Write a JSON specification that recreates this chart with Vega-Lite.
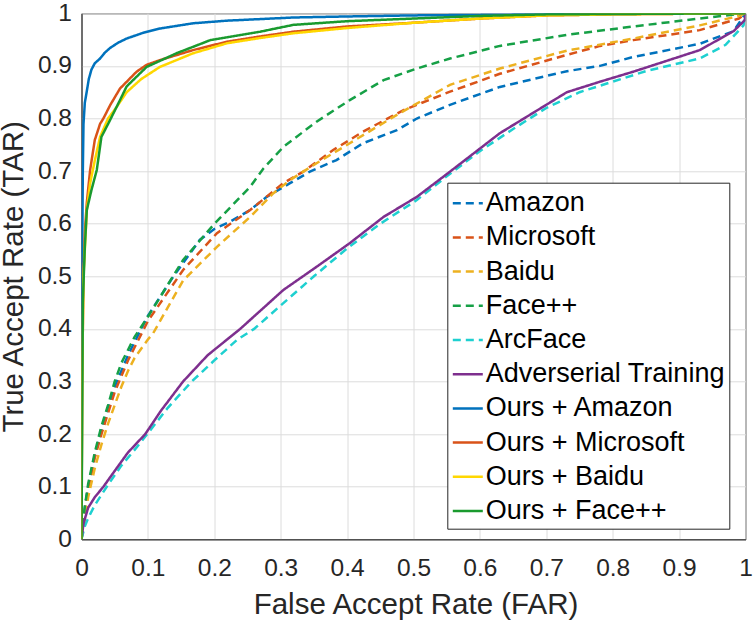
{
  "$schema": "https://vega.github.io/schema/vega-lite/v6.json",
  "width": 664,
  "height": 526,
  "autosize": {"type": "none"},
  "padding": {"left": 81.5, "top": 13.3, "right": 10.5, "bottom": 81.7},
  "background": "white",
  "config": {
    "font": "Liberation Sans",
    "view": {"stroke": "#262626", "strokeWidth": 1}
  },
  "datasets": {
    "roc": [
      {"s":"Amazon","x":0,"y":0},{"s":"Amazon","x":0.005,"y":0.06},{"s":"Amazon","x":0.01,"y":0.1},{"s":"Amazon","x":0.02,"y":0.16},{"s":"Amazon","x":0.03,"y":0.205},{"s":"Amazon","x":0.04,"y":0.25},{"s":"Amazon","x":0.05,"y":0.29},{"s":"Amazon","x":0.06,"y":0.32},{"s":"Amazon","x":0.07,"y":0.35},{"s":"Amazon","x":0.08,"y":0.375},{"s":"Amazon","x":0.1,"y":0.425},{"s":"Amazon","x":0.138,"y":0.499},{"s":"Amazon","x":0.178,"y":0.569},{"s":"Amazon","x":0.2,"y":0.59},{"s":"Amazon","x":0.224,"y":0.604},{"s":"Amazon","x":0.254,"y":0.626},{"s":"Amazon","x":0.279,"y":0.651},{"s":"Amazon","x":0.314,"y":0.677},{"s":"Amazon","x":0.344,"y":0.699},{"s":"Amazon","x":0.384,"y":0.721},{"s":"Amazon","x":0.424,"y":0.753},{"s":"Amazon","x":0.475,"y":0.778},{"s":"Amazon","x":0.505,"y":0.8},{"s":"Amazon","x":0.555,"y":0.826},{"s":"Amazon","x":0.63,"y":0.86},{"s":"Amazon","x":0.731,"y":0.89},{"s":"Amazon","x":0.781,"y":0.9},{"s":"Amazon","x":0.831,"y":0.917},{"s":"Amazon","x":0.931,"y":0.942},{"s":"Amazon","x":0.982,"y":0.966},{"s":"Amazon","x":1,"y":1},
      {"s":"Microsoft","x":0,"y":0},{"s":"Microsoft","x":0.005,"y":0.055},{"s":"Microsoft","x":0.01,"y":0.095},{"s":"Microsoft","x":0.02,"y":0.155},{"s":"Microsoft","x":0.03,"y":0.2},{"s":"Microsoft","x":0.04,"y":0.24},{"s":"Microsoft","x":0.05,"y":0.28},{"s":"Microsoft","x":0.06,"y":0.31},{"s":"Microsoft","x":0.07,"y":0.34},{"s":"Microsoft","x":0.08,"y":0.365},{"s":"Microsoft","x":0.1,"y":0.415},{"s":"Microsoft","x":0.153,"y":0.512},{"s":"Microsoft","x":0.204,"y":0.582},{"s":"Microsoft","x":0.254,"y":0.626},{"s":"Microsoft","x":0.304,"y":0.677},{"s":"Microsoft","x":0.334,"y":0.699},{"s":"Microsoft","x":0.379,"y":0.74},{"s":"Microsoft","x":0.424,"y":0.775},{"s":"Microsoft","x":0.485,"y":0.816},{"s":"Microsoft","x":0.555,"y":0.851},{"s":"Microsoft","x":0.63,"y":0.885},{"s":"Microsoft","x":0.731,"y":0.921},{"s":"Microsoft","x":0.781,"y":0.938},{"s":"Microsoft","x":0.831,"y":0.949},{"s":"Microsoft","x":0.931,"y":0.968},{"s":"Microsoft","x":0.99,"y":0.99},{"s":"Microsoft","x":1,"y":1},
      {"s":"Baidu","x":0,"y":0},{"s":"Baidu","x":0.005,"y":0.04},{"s":"Baidu","x":0.01,"y":0.08},{"s":"Baidu","x":0.02,"y":0.135},{"s":"Baidu","x":0.03,"y":0.18},{"s":"Baidu","x":0.04,"y":0.22},{"s":"Baidu","x":0.05,"y":0.255},{"s":"Baidu","x":0.06,"y":0.29},{"s":"Baidu","x":0.07,"y":0.32},{"s":"Baidu","x":0.08,"y":0.345},{"s":"Baidu","x":0.1,"y":0.38},{"s":"Baidu","x":0.108,"y":0.392},{"s":"Baidu","x":0.153,"y":0.492},{"s":"Baidu","x":0.204,"y":0.556},{"s":"Baidu","x":0.254,"y":0.613},{"s":"Baidu","x":0.289,"y":0.658},{"s":"Baidu","x":0.314,"y":0.683},{"s":"Baidu","x":0.354,"y":0.715},{"s":"Baidu","x":0.404,"y":0.753},{"s":"Baidu","x":0.475,"y":0.807},{"s":"Baidu","x":0.555,"y":0.864},{"s":"Baidu","x":0.63,"y":0.895},{"s":"Baidu","x":0.731,"y":0.929},{"s":"Baidu","x":0.831,"y":0.952},{"s":"Baidu","x":0.931,"y":0.977},{"s":"Baidu","x":0.99,"y":0.995},{"s":"Baidu","x":1,"y":1},
      {"s":"Face++","x":0,"y":0},{"s":"Face++","x":0.005,"y":0.062},{"s":"Face++","x":0.01,"y":0.105},{"s":"Face++","x":0.02,"y":0.165},{"s":"Face++","x":0.03,"y":0.215},{"s":"Face++","x":0.04,"y":0.255},{"s":"Face++","x":0.05,"y":0.3},{"s":"Face++","x":0.06,"y":0.335},{"s":"Face++","x":0.07,"y":0.36},{"s":"Face++","x":0.08,"y":0.385},{"s":"Face++","x":0.1,"y":0.423},{"s":"Face++","x":0.153,"y":0.531},{"s":"Face++","x":0.201,"y":0.601},{"s":"Face++","x":0.254,"y":0.67},{"s":"Face++","x":0.274,"y":0.705},{"s":"Face++","x":0.304,"y":0.746},{"s":"Face++","x":0.354,"y":0.794},{"s":"Face++","x":0.404,"y":0.835},{"s":"Face++","x":0.455,"y":0.873},{"s":"Face++","x":0.505,"y":0.895},{"s":"Face++","x":0.555,"y":0.914},{"s":"Face++","x":0.63,"y":0.938},{"s":"Face++","x":0.731,"y":0.959},{"s":"Face++","x":0.831,"y":0.975},{"s":"Face++","x":0.931,"y":0.99},{"s":"Face++","x":1,"y":1},
      {"s":"ArcFace","x":0,"y":0},{"s":"ArcFace","x":0.005,"y":0.025},{"s":"ArcFace","x":0.01,"y":0.04},{"s":"ArcFace","x":0.02,"y":0.065},{"s":"ArcFace","x":0.038,"y":0.1},{"s":"ArcFace","x":0.06,"y":0.14},{"s":"ArcFace","x":0.08,"y":0.17},{"s":"ArcFace","x":0.099,"y":0.2},{"s":"ArcFace","x":0.13,"y":0.25},{"s":"ArcFace","x":0.166,"y":0.3},{"s":"ArcFace","x":0.2,"y":0.34},{"s":"ArcFace","x":0.234,"y":0.379},{"s":"ArcFace","x":0.26,"y":0.4},{"s":"ArcFace","x":0.304,"y":0.449},{"s":"ArcFace","x":0.35,"y":0.5},{"s":"ArcFace","x":0.4,"y":0.553},{"s":"ArcFace","x":0.45,"y":0.6},{"s":"ArcFace","x":0.505,"y":0.645},{"s":"ArcFace","x":0.55,"y":0.69},{"s":"ArcFace","x":0.6,"y":0.738},{"s":"ArcFace","x":0.65,"y":0.78},{"s":"ArcFace","x":0.7,"y":0.82},{"s":"ArcFace","x":0.75,"y":0.85},{"s":"ArcFace","x":0.8,"y":0.87},{"s":"ArcFace","x":0.85,"y":0.89},{"s":"ArcFace","x":0.9,"y":0.905},{"s":"ArcFace","x":0.931,"y":0.914},{"s":"ArcFace","x":0.97,"y":0.94},{"s":"ArcFace","x":0.997,"y":0.977},{"s":"ArcFace","x":1,"y":1},
      {"s":"Adverserial Training","x":0,"y":0},{"s":"Adverserial Training","x":0.003,"y":0.03},{"s":"Adverserial Training","x":0.01,"y":0.06},{"s":"Adverserial Training","x":0.02,"y":0.08},{"s":"Adverserial Training","x":0.033,"y":0.1},{"s":"Adverserial Training","x":0.05,"y":0.13},{"s":"Adverserial Training","x":0.07,"y":0.165},{"s":"Adverserial Training","x":0.096,"y":0.2},{"s":"Adverserial Training","x":0.12,"y":0.245},{"s":"Adverserial Training","x":0.153,"y":0.3},{"s":"Adverserial Training","x":0.19,"y":0.35},{"s":"Adverserial Training","x":0.239,"y":0.4},{"s":"Adverserial Training","x":0.304,"y":0.474},{"s":"Adverserial Training","x":0.354,"y":0.518},{"s":"Adverserial Training","x":0.404,"y":0.563},{"s":"Adverserial Training","x":0.455,"y":0.613},{"s":"Adverserial Training","x":0.505,"y":0.651},{"s":"Adverserial Training","x":0.555,"y":0.699},{"s":"Adverserial Training","x":0.63,"y":0.772},{"s":"Adverserial Training","x":0.731,"y":0.85},{"s":"Adverserial Training","x":0.781,"y":0.87},{"s":"Adverserial Training","x":0.831,"y":0.889},{"s":"Adverserial Training","x":0.931,"y":0.93},{"s":"Adverserial Training","x":0.982,"y":0.966},{"s":"Adverserial Training","x":0.999,"y":0.987},{"s":"Adverserial Training","x":1,"y":1},
      {"s":"Ours + Amazon","x":0,"y":0},{"s":"Ours + Amazon","x":0.0005,"y":0.45},{"s":"Ours + Amazon","x":0.002,"y":0.7},{"s":"Ours + Amazon","x":0.003,"y":0.79},{"s":"Ours + Amazon","x":0.005,"y":0.83},{"s":"Ours + Amazon","x":0.008,"y":0.852},{"s":"Ours + Amazon","x":0.011,"y":0.875},{"s":"Ours + Amazon","x":0.015,"y":0.893},{"s":"Ours + Amazon","x":0.02,"y":0.905},{"s":"Ours + Amazon","x":0.028,"y":0.914},{"s":"Ours + Amazon","x":0.035,"y":0.925},{"s":"Ours + Amazon","x":0.043,"y":0.934},{"s":"Ours + Amazon","x":0.055,"y":0.944},{"s":"Ours + Amazon","x":0.068,"y":0.952},{"s":"Ours + Amazon","x":0.093,"y":0.963},{"s":"Ours + Amazon","x":0.118,"y":0.971},{"s":"Ours + Amazon","x":0.168,"y":0.981},{"s":"Ours + Amazon","x":0.219,"y":0.986},{"s":"Ours + Amazon","x":0.269,"y":0.989},{"s":"Ours + Amazon","x":0.319,"y":0.992},{"s":"Ours + Amazon","x":0.4,"y":0.994},{"s":"Ours + Amazon","x":0.5,"y":0.996},{"s":"Ours + Amazon","x":0.6,"y":0.997},{"s":"Ours + Amazon","x":0.7,"y":0.998},{"s":"Ours + Amazon","x":0.8,"y":0.999},{"s":"Ours + Amazon","x":1,"y":1},
      {"s":"Ours + Microsoft","x":0,"y":0},{"s":"Ours + Microsoft","x":0.001,"y":0.3},{"s":"Ours + Microsoft","x":0.003,"y":0.5},{"s":"Ours + Microsoft","x":0.005,"y":0.582},{"s":"Ours + Microsoft","x":0.008,"y":0.64},{"s":"Ours + Microsoft","x":0.013,"y":0.702},{"s":"Ours + Microsoft","x":0.02,"y":0.759},{"s":"Ours + Microsoft","x":0.028,"y":0.79},{"s":"Ours + Microsoft","x":0.033,"y":0.8},{"s":"Ours + Microsoft","x":0.043,"y":0.825},{"s":"Ours + Microsoft","x":0.058,"y":0.857},{"s":"Ours + Microsoft","x":0.083,"y":0.889},{"s":"Ours + Microsoft","x":0.098,"y":0.902},{"s":"Ours + Microsoft","x":0.118,"y":0.911},{"s":"Ours + Microsoft","x":0.168,"y":0.93},{"s":"Ours + Microsoft","x":0.219,"y":0.946},{"s":"Ours + Microsoft","x":0.269,"y":0.956},{"s":"Ours + Microsoft","x":0.319,"y":0.965},{"s":"Ours + Microsoft","x":0.4,"y":0.975},{"s":"Ours + Microsoft","x":0.5,"y":0.982},{"s":"Ours + Microsoft","x":0.6,"y":0.99},{"s":"Ours + Microsoft","x":0.7,"y":0.996},{"s":"Ours + Microsoft","x":0.8,"y":0.998},{"s":"Ours + Microsoft","x":1,"y":1},
      {"s":"Ours + Baidu","x":0,"y":0},{"s":"Ours + Baidu","x":0.001,"y":0.3},{"s":"Ours + Baidu","x":0.003,"y":0.5},{"s":"Ours + Baidu","x":0.008,"y":0.626},{"s":"Ours + Baidu","x":0.013,"y":0.677},{"s":"Ours + Baidu","x":0.02,"y":0.72},{"s":"Ours + Baidu","x":0.028,"y":0.765},{"s":"Ours + Baidu","x":0.04,"y":0.8},{"s":"Ours + Baidu","x":0.053,"y":0.822},{"s":"Ours + Baidu","x":0.068,"y":0.85},{"s":"Ours + Baidu","x":0.09,"y":0.875},{"s":"Ours + Baidu","x":0.118,"y":0.898},{"s":"Ours + Baidu","x":0.168,"y":0.924},{"s":"Ours + Baidu","x":0.219,"y":0.943},{"s":"Ours + Baidu","x":0.269,"y":0.953},{"s":"Ours + Baidu","x":0.319,"y":0.962},{"s":"Ours + Baidu","x":0.4,"y":0.972},{"s":"Ours + Baidu","x":0.5,"y":0.982},{"s":"Ours + Baidu","x":0.6,"y":0.99},{"s":"Ours + Baidu","x":0.7,"y":0.996},{"s":"Ours + Baidu","x":0.8,"y":0.998},{"s":"Ours + Baidu","x":1,"y":1},
      {"s":"Ours + Face++","x":0,"y":0},{"s":"Ours + Face++","x":0.002,"y":0.45},{"s":"Ours + Face++","x":0.005,"y":0.556},{"s":"Ours + Face++","x":0.008,"y":0.626},{"s":"Ours + Face++","x":0.015,"y":0.664},{"s":"Ours + Face++","x":0.023,"y":0.702},{"s":"Ours + Face++","x":0.03,"y":0.765},{"s":"Ours + Face++","x":0.043,"y":0.797},{"s":"Ours + Face++","x":0.058,"y":0.835},{"s":"Ours + Face++","x":0.068,"y":0.861},{"s":"Ours + Face++","x":0.098,"y":0.898},{"s":"Ours + Face++","x":0.143,"y":0.924},{"s":"Ours + Face++","x":0.194,"y":0.949},{"s":"Ours + Face++","x":0.269,"y":0.965},{"s":"Ours + Face++","x":0.319,"y":0.978},{"s":"Ours + Face++","x":0.4,"y":0.985},{"s":"Ours + Face++","x":0.5,"y":0.99},{"s":"Ours + Face++","x":0.6,"y":0.995},{"s":"Ours + Face++","x":0.7,"y":0.998},{"s":"Ours + Face++","x":1,"y":1}
    ]
  },
  "data": {"name": "roc"},
  "mark": {"type": "line", "strokeWidth": 2.5, "clip": true},
  "encoding": {
    "x": {
      "field": "x", "type": "quantitative",
      "scale": {"domain": [0, 1], "nice": false},
      "axis": {
        "values": [0,0.1,0.2,0.3,0.4,0.5,0.6,0.7,0.8,0.9,1],
        "format": "~g",
        "grid": true, "gridColor": "#dcdcdc", "gridWidth": 1,
        "ticks": false, "tickSize": 0,
        "domain": true, "domainColor": "#262626",
        "labelFontSize": 24.5, "labelColor": "#262626", "labelPadding": 17.6,
        "labelFlush": false, "labelOverlap": false,
        "title": "False Accept Rate (FAR)",
        "titleFontSize": 29.5, "titleFontWeight": "normal", "titleColor": "#262626",
        "titleBaseline": "alphabetic", "titleX": 334, "titleY": 74, "titleAlign": "center"
      }
    },
    "y": {
      "field": "y", "type": "quantitative",
      "scale": {"domain": [0, 1], "nice": false},
      "axis": {
        "values": [0,0.1,0.2,0.3,0.4,0.5,0.6,0.7,0.8,0.9,1],
        "format": "~g",
        "grid": true, "gridColor": "#dcdcdc", "gridWidth": 1,
        "ticks": false, "tickSize": 0,
        "domain": true, "domainColor": "#262626",
        "labelFontSize": 24.5, "labelColor": "#262626", "labelPadding": 10,
        "labelFlush": false, "labelOverlap": false,
        "title": "True Accept Rate (TAR)",
        "titleFontSize": 29.5, "titleFontWeight": "normal", "titleColor": "#262626",
        "titleAngle": 270, "titleBaseline": "alphabetic", "titleAlign": "center",
        "titleX": -59, "titleY": 263
      }
    },
    "color": {
      "field": "s", "type": "nominal",
      "scale": {
        "domain": ["Amazon","Microsoft","Baidu","Face++","ArcFace","Adverserial Training","Ours + Amazon","Ours + Microsoft","Ours + Baidu","Ours + Face++"],
        "range": ["#0072BD","#D95319","#EDB120","#16A046","#1ED0D0","#7E2F8E","#0072BD","#D95319","#FFD700","#1A9A2E"]
      },
      "legend": {
        "title": null, "orient": "none", "legendX": 365.8, "legendY": 169.4,
        "labelFontSize": 27, "labelColor": "#000000", "labelLimit": 400, "labelOffset": 1.5,
        "symbolType": "stroke", "symbolSize": 900, "symbolStrokeWidth": 2.5,
        "strokeColor": "#262626", "fillColor": "white", "padding": 4, "rowPadding": 4.2
      }
    },
    "strokeDash": {
      "field": "s", "type": "nominal",
      "scale": {
        "domain": ["Amazon","Microsoft","Baidu","Face++","ArcFace","Adverserial Training","Ours + Amazon","Ours + Microsoft","Ours + Baidu","Ours + Face++"],
        "range": [[8,5],[8,5],[8,5],[8,5],[8,5],[1,0],[1,0],[1,0],[1,0],[1,0]]
      },
      "legend": {
        "title": null, "orient": "none", "legendX": 365.8, "legendY": 169.4,
        "labelFontSize": 27, "labelColor": "#000000", "labelLimit": 400, "labelOffset": 1.5,
        "symbolType": "stroke", "symbolSize": 900, "symbolStrokeWidth": 2.5,
        "strokeColor": "#262626", "fillColor": "white", "padding": 4, "rowPadding": 4.2
      }
    }
  }
}
